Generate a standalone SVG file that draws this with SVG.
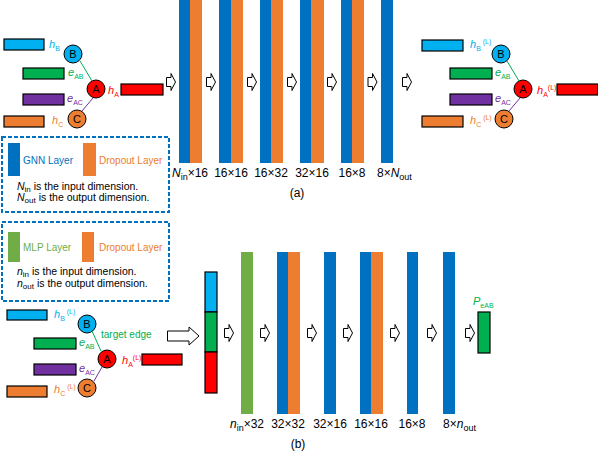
<svg xmlns="http://www.w3.org/2000/svg" width="598" height="456" viewBox="0 0 598 456">
<style>
text{font-family:"Liberation Sans",Arial,sans-serif;font-size:10px}
.lb{font-size:11px}
.dim{font-size:12px}
.desc{font-size:10.5px}
.i{font-style:italic}
.gnn{fill:#0070C0}
.drop{fill:#ED7D31}
.mlp{fill:#70AD47}
.box{fill:none;stroke:#0070C0;stroke-width:2;stroke-dasharray:4 2}
.rb{stroke:#000;stroke-width:1.2}
.circ{stroke:#000;stroke-width:1}
.ct{font-size:11px;text-anchor:middle;fill:#000}
.ar{fill:#fff;stroke:#000;stroke-width:1}
</style>
<defs>
<path id="arr" d="M0,4 H4.5 V0 L9,8.5 L4.5,17 V13 H0 Z"/>
</defs>

<!-- (a) input graph -->
<g id="a-in">
<rect class="rb" x="4" y="39" width="40" height="11" fill="#00B0F0"/>
<text x="49" y="48" class="lb" fill="#00B0F0"><tspan class="i">h</tspan><tspan font-size="7" dy="3">B</tspan></text>
<rect class="rb" x="23" y="68" width="41" height="11" fill="#00B050"/>
<text x="68" y="76" class="lb" fill="#00B050"><tspan class="i">e</tspan><tspan font-size="7" dy="3">AB</tspan></text>
<rect class="rb" x="23" y="94" width="41" height="11" fill="#7030A0"/>
<text x="67" y="102" class="lb" fill="#7030A0"><tspan class="i">e</tspan><tspan font-size="7" dy="3">AC</tspan></text>
<rect class="rb" x="4" y="116" width="40" height="11" fill="#ED7D31"/>
<text x="52" y="124" class="lb" fill="#ED7D31"><tspan class="i">h</tspan><tspan font-size="7" dy="3">C</tspan></text>
<text x="108" y="94" class="lb" fill="#FF0000"><tspan class="i">h</tspan><tspan font-size="7" dy="3">A</tspan></text>
<rect class="rb" x="121" y="84" width="42" height="11" fill="#FF0000"/>
</g>
<g id="a-in-B"><circle class="circ" cx="73" cy="54" r="9" fill="#00B0F0"/><text class="ct" x="73" y="58">B</text></g>
<g id="a-in-A"><circle class="circ" cx="96" cy="89" r="9" fill="#FF0000"/><text class="ct" x="96" y="93">A</text></g>
<g id="a-in-C"><circle class="circ" cx="77" cy="119" r="9" fill="#ED7D31"/><text class="ct" x="77" y="123">C</text></g>

<!-- (a) layers -->
<g id="a-l1"><rect class="gnn" x="179" y="0" width="11" height="163"/><rect class="drop" x="190" y="0" width="12" height="163"/></g>
<g id="a-l2"><rect class="gnn" x="219" y="0" width="12" height="163"/><rect class="drop" x="231" y="0" width="12" height="163"/></g>
<g id="a-l3"><rect class="gnn" x="260" y="0" width="11" height="163"/><rect class="drop" x="271" y="0" width="12" height="163"/></g>
<g id="a-l4"><rect class="gnn" x="300" y="0" width="11" height="163"/><rect class="drop" x="311" y="0" width="13" height="163"/></g>
<g id="a-l5"><rect class="gnn" x="341" y="0" width="11" height="163"/><rect class="drop" x="352" y="0" width="12" height="163"/></g>
<g id="a-l6"><rect class="gnn" x="381" y="0" width="12" height="163"/></g>

<g id="a-dims" class="dim">
<text class="dim" x="190" y="177" text-anchor="middle"><tspan class="i">N</tspan><tspan font-size="9" dy="3">in</tspan><tspan dy="-3">×16</tspan></text>
<text class="dim" x="231" y="177" text-anchor="middle">16×16</text>
<text class="dim" x="271" y="177" text-anchor="middle">16×32</text>
<text class="dim" x="312" y="177" text-anchor="middle">32×16</text>
<text class="dim" x="352" y="177" text-anchor="middle">16×8</text>
<text class="dim" x="377" y="177">8×<tspan class="i">N</tspan><tspan font-size="9" dy="3">out</tspan></text>
<text class="dim" x="297" y="197" text-anchor="middle">(a)</text>
</g>

<!-- (a) output graph -->
<g id="a-out">
<rect class="rb" x="422" y="40" width="41" height="11" fill="#00B0F0"/>
<text x="470" y="48" class="lb" fill="#00B0F0"><tspan class="i">h</tspan><tspan font-size="7" dy="3">B</tspan><tspan font-size="7" dy="-7"> (L)</tspan></text>
<rect class="rb" x="450" y="68" width="42" height="11" fill="#00B050"/>
<text x="495" y="76" class="lb" fill="#00B050"><tspan class="i">e</tspan><tspan font-size="7" dy="3">AB</tspan></text>
<rect class="rb" x="450" y="94" width="42" height="11" fill="#7030A0"/>
<text x="495" y="102" class="lb" fill="#7030A0"><tspan class="i">e</tspan><tspan font-size="7" dy="3">AC</tspan></text>
<rect class="rb" x="422" y="116" width="41" height="11" fill="#ED7D31"/>
<text x="470" y="124" class="lb" fill="#ED7D31"><tspan class="i">h</tspan><tspan font-size="7" dy="3">C</tspan><tspan font-size="7" dy="-7"> (L)</tspan></text>
<text x="537" y="94" class="lb" fill="#FF0000"><tspan class="i">h</tspan><tspan font-size="7" dy="3">A</tspan><tspan font-size="7" dy="-7">(L)</tspan></text>
<rect class="rb" x="557" y="84" width="41" height="11" fill="#FF0000"/>
</g>
<g id="a-out-B"><circle class="circ" cx="501" cy="54" r="9" fill="#00B0F0"/><text class="ct" x="501" y="58">B</text></g>
<g id="a-out-A"><circle class="circ" cx="523" cy="89" r="9" fill="#FF0000"/><text class="ct" x="523" y="93">A</text></g>
<g id="a-out-C"><circle class="circ" cx="504" cy="119" r="9" fill="#ED7D31"/><text class="ct" x="504" y="123">C</text></g>

<!-- legends -->
<g id="legend-a">
<rect class="box" x="2" y="137" width="167" height="75"/>
<rect class="gnn" x="8" y="143" width="12" height="33"/>
<text x="23" y="164" fill="#0070C0">GNN Layer</text>
<rect class="drop" x="83" y="143" width="13" height="33"/>
<text x="99" y="164" fill="#ED7D31">Dropout Layer</text>
<text class="desc" x="17" y="190"><tspan class="i">N</tspan><tspan font-size="8" dy="2">in</tspan><tspan dy="-2"> is the input dimension.</tspan></text>
<text class="desc" x="17" y="201"><tspan class="i">N</tspan><tspan font-size="8" dy="2">out</tspan><tspan dy="-2"> is the output dimension.</tspan></text>
</g>
<g id="legend-b">
<rect class="box" x="2" y="222" width="167" height="79"/>
<rect class="mlp" x="8" y="232" width="12" height="30"/>
<text x="23" y="251" fill="#70AD47">MLP Layer</text>
<rect class="drop" x="82" y="232" width="12" height="30"/>
<text x="99" y="251" fill="#ED7D31">Dropout Layer</text>
<text class="desc" x="17" y="275"><tspan class="i">n</tspan><tspan font-size="8" dy="2">in</tspan><tspan dy="-2"> is the input dimension.</tspan></text>
<text class="desc" x="17" y="287"><tspan class="i">n</tspan><tspan font-size="8" dy="2">out</tspan><tspan dy="-2"> is the output dimension.</tspan></text>
</g>

<!-- (b) input graph -->
<g id="b-in">
<rect class="rb" x="7" y="310" width="40" height="10" fill="#00B0F0"/>
<text x="54" y="318" class="lb" fill="#00B0F0"><tspan class="i">h</tspan><tspan font-size="7" dy="3">B</tspan><tspan font-size="7" dy="-7"> (L)</tspan></text>
<text x="101" y="338" font-size="11" fill="#00B050">target edge</text>
<rect class="rb" x="34" y="338" width="42" height="11" fill="#00B050"/>
<text x="79" y="346" class="lb" fill="#00B050"><tspan class="i">e</tspan><tspan font-size="7" dy="3">AB</tspan></text>
<rect class="rb" x="34" y="364" width="42" height="11" fill="#7030A0"/>
<text x="79" y="372" class="lb" fill="#7030A0"><tspan class="i">e</tspan><tspan font-size="7" dy="3">AC</tspan></text>
<rect class="rb" x="7" y="386" width="40" height="11" fill="#ED7D31"/>
<text x="54" y="393" class="lb" fill="#ED7D31"><tspan class="i">h</tspan><tspan font-size="7" dy="3">C</tspan><tspan font-size="7" dy="-7"> (L)</tspan></text>
<text x="122" y="364" class="lb" fill="#FF0000"><tspan class="i">h</tspan><tspan font-size="7" dy="3">A</tspan><tspan font-size="7" dy="-7">(L)</tspan></text>
<rect class="rb" x="142" y="354" width="40" height="11" fill="#FF0000"/>
</g>
<g id="b-in-B"><circle class="circ" cx="87" cy="324" r="9" fill="#00B0F0"/><text class="ct" x="87" y="328">B</text></g>
<g id="b-in-A"><circle class="circ" cx="107" cy="359" r="9" fill="#FF0000"/><text class="ct" x="107" y="363">A</text></g>
<g id="b-in-C"><circle class="circ" cx="87" cy="388" r="9" fill="#ED7D31"/><text class="ct" x="87" y="392">C</text></g>

<!-- (b) concatenated input -->
<g id="b-concat">
<rect x="205" y="272" width="12" height="40" fill="#00B0F0" class="rb"/>
<rect x="205" y="312" width="12" height="40" fill="#00B050" class="rb"/>
<rect x="205" y="352" width="12" height="41" fill="#FF0000" class="rb"/>
</g>

<!-- (b) layers -->
<g id="b-l1"><rect class="mlp" x="241" y="252" width="12" height="162"/></g>
<g id="b-l2"><rect class="gnn" x="277" y="252" width="11" height="162"/><rect class="drop" x="288" y="252" width="12" height="162"/></g>
<g id="b-l3"><rect class="gnn" x="324" y="252" width="12" height="162"/></g>
<g id="b-l4"><rect class="gnn" x="360" y="252" width="11" height="162"/><rect class="drop" x="371" y="252" width="12" height="162"/></g>
<g id="b-l5"><rect class="gnn" x="407" y="252" width="11" height="162"/></g>
<g id="b-l6"><rect class="gnn" x="443" y="252" width="12" height="162"/></g>

<g id="b-out">
<text x="473" y="305" class="lb" fill="#00B050"><tspan class="i">P</tspan><tspan font-size="7" dy="3">eAB</tspan></text>
<rect class="rb" x="478" y="312" width="12" height="41" fill="#00B050"/>
</g>

<g id="b-dims">
<text class="dim" x="247" y="428" text-anchor="middle"><tspan class="i">n</tspan><tspan font-size="9" dy="3">in</tspan><tspan dy="-3">×32</tspan></text>
<text class="dim" x="288" y="428" text-anchor="middle">32×32</text>
<text class="dim" x="330" y="428" text-anchor="middle">32×16</text>
<text class="dim" x="371" y="428" text-anchor="middle">16×16</text>
<text class="dim" x="412" y="428" text-anchor="middle">16×8</text>
<text class="dim" x="443" y="428">8×<tspan class="i">n</tspan><tspan font-size="9" dy="3">out</tspan></text>
<text class="dim" x="298" y="448" text-anchor="middle">(b)</text>
</g>

<!-- connectors -->
<g id="connectors">
<line x1="80" y1="61" x2="92" y2="81" stroke="#00B050" stroke-width="1"/>
<line x1="93" y1="98" x2="82" y2="111" stroke="#7030A0" stroke-width="1"/>
<line x1="507" y1="61" x2="519" y2="81" stroke="#00B050" stroke-width="1"/>
<line x1="520" y1="98" x2="509" y2="111" stroke="#7030A0" stroke-width="1"/>
<line x1="92" y1="331" x2="101" y2="351" stroke="#00B050" stroke-width="1"/>
<line x1="102" y1="367" x2="94" y2="381" stroke="#7030A0" stroke-width="1"/>
<use href="#arr" class="ar" x="166.5" y="73.5"/>
<use href="#arr" class="ar" x="206.5" y="73.5"/>
<use href="#arr" class="ar" x="247.5" y="73.5"/>
<use href="#arr" class="ar" x="287.5" y="73.5"/>
<use href="#arr" class="ar" x="327.5" y="73.5"/>
<use href="#arr" class="ar" x="368" y="73.5"/>
<use href="#arr" class="ar" x="402.5" y="73.5"/>
<path class="ar" d="M167.5,331 H189 V327 L199,336 L189,345 V341 H167.5 Z"/>
<use href="#arr" class="ar" x="224.5" y="324.5"/>
<use href="#arr" class="ar" x="260.5" y="324.5"/>
<use href="#arr" class="ar" x="307.5" y="324.5"/>
<use href="#arr" class="ar" x="343.5" y="324.5"/>
<use href="#arr" class="ar" x="390.5" y="324.5"/>
<use href="#arr" class="ar" x="427.5" y="324.5"/>
<use href="#arr" class="ar" x="465.5" y="324.5"/>
</g>
</svg>
